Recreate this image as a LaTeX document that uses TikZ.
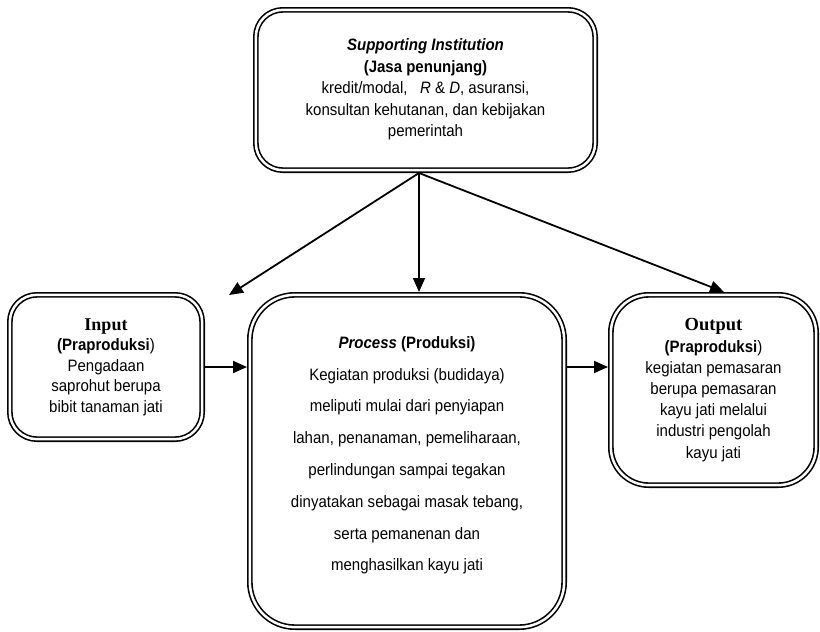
\documentclass[tikz,border=0pt]{standalone}
\usepackage{fontspec}
\setmainfont{Liberation Sans}[FakeStretch=0.91]
\newfontfamily\serifjudul{Liberation Serif}
\usetikzlibrary{arrows.meta}

\tikzset{
  kotak/.style={draw, double, line width=1.6pt, double distance=2.5pt,
    align=center, inner sep=0pt, outer sep=2.85pt},
  panah/.style={-{Triangle[length=14pt,width=12pt]}, line width=1.8pt},
  teks/.style={font=\fontsize{16.5}{21.5}\selectfont}
}

\begin{document}
\begin{tikzpicture}[x=1pt, y=-1pt]
    \useasboundingbox (0,0) rectangle (820,632);

    % Kotak atas: jasa penunjang
    \node[kotak, teks, minimum width=339.3pt, minimum height=160.3pt,
          rounded corners=27pt] (jasa) at (425.5,90)
        {\textbf{\textit{Supporting Institution}}\\
         \textbf{(Jasa penunjang)}\\
         kredit/modal,\ \ \ \textit{R} \& \textit{D}, asuransi,\\
         konsultan kehutanan, dan kebijakan\\
         pemerintah\\[-17pt]};

    % Kotak kiri: input
    \node[kotak, font=\fontsize{16.5}{20.5}\selectfont,
          minimum width=192.3pt, minimum height=144.3pt,
          rounded corners=27pt] (input) at (106,367)
        {{\serifjudul\bfseries\fontsize{18}{20.5}\selectfont Input}\\
         \textbf{(Praproduksi})\\
         Pengadaan\\
         saprohut berupa\\
         bibit tanaman jati};

    % Kotak tengah: proses
    \node[kotak, font=\fontsize{16.5}{31.8}\selectfont,
          minimum width=314.3pt, minimum height=332.3pt,
          rounded corners=45pt] (proses) at (407,461)
        {\textbf{\textit{Process} (Produksi)}\\
         Kegiatan produksi (budidaya)\\
         meliputi mulai dari penyiapan\\
         lahan, penanaman, pemeliharaan,\\
         perlindungan sampai tegakan\\
         dinyatakan sebagai masak tebang,\\
         serta pemanenan dan\\
         menghasilkan kayu jati\\[-17pt]};

    % Kotak kanan: output
    \node[kotak, font=\fontsize{16.5}{21.2}\selectfont,
          minimum width=205.3pt, minimum height=190.3pt,
          rounded corners=38pt] (output) at (713.5,390)
        {{\serifjudul\bfseries\fontsize{18.5}{21.2}\selectfont Output}\\
         \textbf{(Praproduksi})\\
         kegiatan pemasaran\\
         berupa pemasaran\\
         kayu jati melalui\\
         industri pengolah\\
         kayu jati};

    % Titik ujung panah kiri (tidak menyentuh kotak)
    \coordinate (ujungkiri) at (229,295);
    \coordinate (pangkal) at ([xshift=-6.5pt]jasa.south);

    % Panah dari jasa penunjang
    \draw[panah] (pangkal) -- (ujungkiri);
    \draw[panah] (pangkal) -- (pangkal |- proses.north);
    \draw[panah] (pangkal) -- ([xshift=10.5pt]output.north);

    % Panah alur input - proses - output
    \draw[panah] (input.east) -- (input.east -| proses.west);
    \draw[panah] (input.east -| proses.east) -- (input.east -| output.west);
\end{tikzpicture}
\end{document}
